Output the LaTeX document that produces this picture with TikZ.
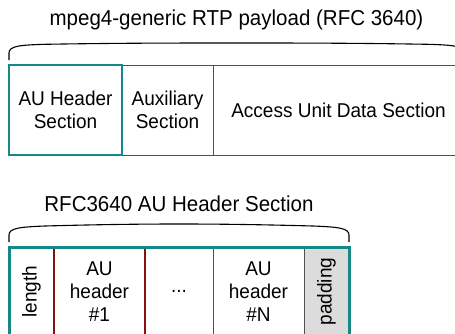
\documentclass[tikz,border=0pt]{standalone}
\usepackage{fontspec}
\setmainfont{Liberation Sans}[FakeStretch=0.95]
\definecolor{auteal}{RGB}{22,136,136}
\definecolor{aured}{RGB}{136,16,16}
\definecolor{cellline}{RGB}{80,80,80}
\definecolor{padfill}{RGB}{220,220,220}
\tikzset{
  titletext/.style={inner sep=0pt, font=\fontsize{21.6}{25}\selectfont},
  cell/.style={draw=cellline, line width=1pt, inner sep=0pt, align=center,
    font=\fontsize{20}{23}\selectfont},
  brace/.style={draw=black, line width=1.1pt},
}
\begin{document}
\begin{tikzpicture}[x=1pt,y=-1pt]
\useasboundingbox (0,0) rectangle (455,333);
\clip (0,0) rectangle (455,333);

% ---- RTP payload layout ----
\node[titletext] (title1) at (236.5,20) {mpeg4-generic RTP payload (RFC 3640)};
\path[brace] (9,60) -- (9,53) .. controls (9,46) and (20,45) .. (45,44.3)
  .. controls (120,43) and (180,43) .. (236.5,43)
  .. controls (293,43) and (353,43) .. (428,44.3)
  .. controls (453,45) and (464,46) .. (464,53) -- (464,60);

\node[cell, minimum width=91pt, minimum height=90pt] (aux) at (167.5,110) {Auxiliary\\Section};
\node[cell, minimum width=251pt, minimum height=90pt] (audata) at (338.5,110) {Access Unit Data Section};
\node[cell, draw=auteal, line width=2pt, minimum width=113pt, minimum height=90pt] (aus) at (65.5,110) {AU Header\\Section};

% ---- AU header section layout ----
\node[titletext] (title2) at (179,204) {RFC3640 AU Header Section};
\path[brace] (9,242) -- (9,235) .. controls (9,228) and (20,227) .. (45,226)
  .. controls (100,224.5) and (140,224) .. (179,224)
  .. controls (218,224) and (258,224.5) .. (313,226)
  .. controls (338,227) and (349,228) .. (349,235) -- (349,242);

\node[cell, rotate=90, minimum width=89pt, minimum height=45pt] (len) at (31.5,291.5) {length};
\node[cell, minimum width=68pt, minimum height=89pt] (dots) at (179,291.5) {...};
\node[cell, minimum width=91pt, minimum height=89pt] (auN) at (258.5,291.5) {AU\\header\\\#N};
\node[cell, rotate=90, fill=padfill, minimum width=89pt, minimum height=45pt] (pad) at (326.5,291.5) {padding};
\node[cell, draw=aured, line width=1.5pt, minimum width=91pt, minimum height=89pt] (au1) at (99.5,291.5) {AU\\header\\\#1};
\node[draw=auteal, line width=3pt, minimum width=340pt, minimum height=89pt, inner sep=0pt] (hdr) at (179,291.5) {};
\end{tikzpicture}
\end{document}
